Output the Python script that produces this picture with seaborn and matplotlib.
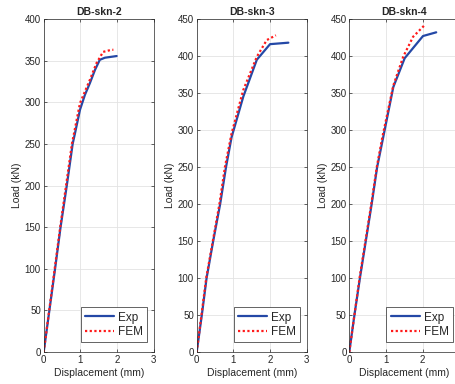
import numpy as np
import pandas as pd
import matplotlib
matplotlib.use('Agg')
import matplotlib.pyplot as plt
import seaborn as sns

titles = ['DB-skn-2', 'DB-skn-3', 'DB-skn-4']
ymax = [400, 450, 450]

exp1_d = [0, 0.155, 0.31, 0.46, 0.63, 0.79, 0.85, 0.99, 1.125, 1.26, 1.40, 1.53, 1.67, 1.99]
exp1_f = [0, 50, 100, 150, 200, 250, 262, 291, 309, 323, 339, 351, 353.5, 355.5]
fem1_d = [0, 0.15, 0.30, 0.45, 0.61, 0.77, 0.99, 1.26, 1.44, 1.62, 1.85, 1.90]
fem1_f = [0, 50, 100, 150, 200, 250, 299, 327, 347, 360.5, 363, 363]

exp2_d = [0, 0.14, 0.27, 0.45, 0.64, 0.80, 0.95, 1.27, 1.64, 2.0, 2.5]
exp2_f = [0, 50, 100, 150, 200, 250, 290, 345, 395, 416, 418]
fem2_d = [0, 0.13, 0.26, 0.44, 0.62, 0.77, 0.95, 1.27, 1.64, 1.91, 2.16]
fem2_f = [0, 50, 100, 150, 200, 250, 295, 354, 399, 421.5, 428]

exp3_d = [0, 0.14, 0.29, 0.45, 0.61, 0.76, 0.92, 1.2, 1.51, 2.01, 2.37]
exp3_f = [0, 50, 100, 150, 200, 250, 289, 358, 397, 427, 432]
fem3_d = [0, 0.14, 0.28, 0.44, 0.60, 0.75, 0.90, 1.2, 1.47, 1.74, 2.06]
fem3_f = [0, 50, 100, 150, 200, 250, 290, 360, 399, 426, 442]

curves = [(exp1_d, exp1_f, fem1_d, fem1_f),
          (exp2_d, exp2_f, fem2_d, fem2_f),
          (exp3_d, exp3_f, fem3_d, fem3_f)]

sns.set_theme(style='ticks')
plt.rcParams['font.family'] = ['Liberation Sans', 'DejaVu Sans']

fig = plt.figure(figsize=(4.56, 3.84), dpi=100)
lefts = [43.7, 196.7, 349.3]
blue = '#2448a6'
red = '#ff1a1a'

for i in range(3):
    ax = fig.add_axes([lefts[i] / 456, 32 / 384, 110 / 456, 333 / 384])
    ed, ef, fd, ff = curves[i]
    df = pd.concat([
        pd.DataFrame({'d': ed, 'f': ef, 's': 'Exp'}),
        pd.DataFrame({'d': fd, 'f': ff, 's': 'FEM'}),
    ])
    sns.lineplot(data=df[df.s == 'Exp'], x='d', y='f', ax=ax, color=blue,
                 lw=1.6, sort=False, estimator=None, label='Exp')
    sns.lineplot(data=df[df.s == 'FEM'], x='d', y='f', ax=ax, color=red,
                 lw=1.6, dashes=(1, 1.1), sort=False, estimator=None, label='FEM')
    ax.set_xlim(0, 3)
    ax.set_ylim(0, ymax[i])
    ax.set_xticks([0, 1, 2, 3])
    if i == 2:
        # the last panel runs off the right edge, its "3" is not shown
        ax.set_xticklabels(['0', '1', '2', ''])
    ax.set_yticks(np.arange(0, ymax[i] + 1, 50))
    ax.grid(True, color='#e3e3e3', lw=0.6)
    ax.tick_params(direction='in', top=True, right=True, length=2.5, width=0.5,
                   labelsize=7, colors='#262626', pad=2)
    for sp in ax.spines.values():
        sp.set_linewidth(0.5)
        sp.set_color('#262626')
    ax.set_title(titles[i], fontsize=7.5, fontweight='bold', pad=3)
    ax.set_xlabel('Displacement (mm)', fontsize=7.5, labelpad=2)
    ax.set_ylabel('Load (kN)', fontsize=7.5, labelpad=2)
    leg = ax.legend(loc='lower right', fontsize=8.5, handlelength=2.5,
                    bbox_to_anchor=(0.94, 0.03), borderaxespad=0,
                    fancybox=False, framealpha=1, borderpad=0.35,
                    labelspacing=0.2, handletextpad=0.3)
    leg.get_frame().set_edgecolor('#262626')
    leg.get_frame().set_linewidth(0.5)

fig.savefig('out.png', dpi=100)
